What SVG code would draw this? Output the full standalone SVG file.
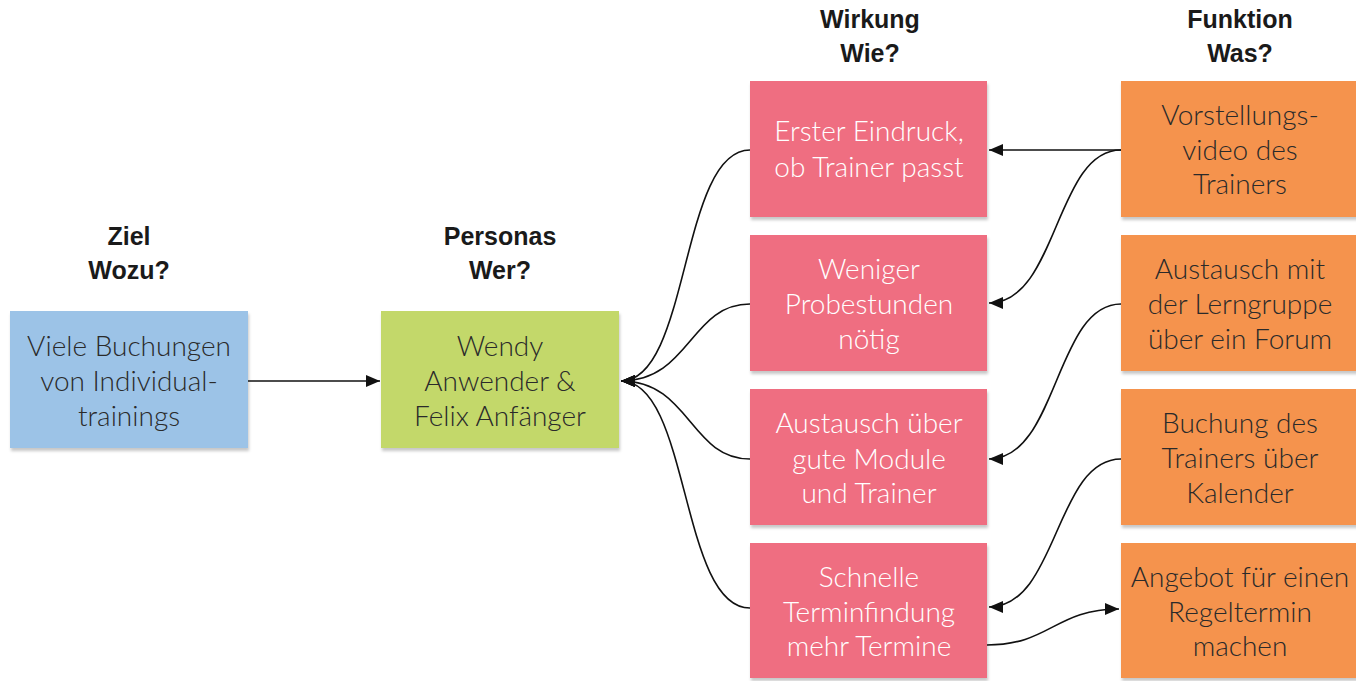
<svg xmlns="http://www.w3.org/2000/svg" width="1356" height="681" viewBox="0 0 1356 681">
<defs>
<filter id="sh" x="-5%" y="-5%" width="115%" height="120%">
<feDropShadow dx="1" dy="3" stdDeviation="1.5" flood-color="#000" flood-opacity="0.22"/>
</filter>
<marker id="ah" viewBox="0 0 14 12" refX="14" refY="6" markerWidth="14" markerHeight="12" markerUnits="userSpaceOnUse" orient="auto">
<path d="M0,0 L14,6 L0,12 Z" fill="#111"/>
</marker>
</defs>
<style>
.h{font-family:"Liberation Sans",Arial,sans-serif;font-weight:bold;font-size:25px;fill:#1a1a1a;text-anchor:middle}
.t{font-family:Lato,"Liberation Sans",sans-serif;font-weight:300;font-size:28px;text-anchor:middle}
.dk{fill:#2a2a2a}
.wt{fill:#ffffff}
.blue{fill:#9cc3e7;filter:url(#sh)}
.green{fill:#c3d86b;filter:url(#sh)}
.pink{fill:#ef6e81;filter:url(#sh)}
.orange{fill:#f5934d;filter:url(#sh)}
.c{fill:none;stroke:#111;stroke-width:1.6;marker-end:url(#ah)}
</style>
<rect width="1356" height="681" fill="#fff"/>

<g id="headings">
<text class="h" x="129" y="245">Ziel</text>
<text class="h" x="129" y="279">Wozu?</text>
<text class="h" x="500" y="245">Personas</text>
<text class="h" x="500" y="279">Wer?</text>
<text class="h" x="870" y="28">Wirkung</text>
<text class="h" x="870" y="62">Wie?</text>
<text class="h" x="1240" y="28">Funktion</text>
<text class="h" x="1240" y="62">Was?</text>
</g>

<g id="ziel">
<rect class="blue" x="10" y="311" width="238" height="137"/>
<text class="t dk" x="129" y="356">Viele Buchungen</text>
<text class="t dk" x="129" y="391">von Individual-</text>
<text class="t dk" x="129" y="426">trainings</text>
</g>

<g id="personas">
<rect class="green" x="381" y="311" width="238" height="137"/>
<text class="t dk" x="500" y="356">Wendy</text>
<text class="t dk" x="500" y="391">Anwender &amp;</text>
<text class="t dk" x="500" y="426">Felix Anfänger</text>
</g>

<g id="wirkung1">
<rect class="pink" x="750" y="81" width="237" height="136"/>
<text class="t wt" x="869" y="141">Erster Eindruck,</text>
<text class="t wt" x="869" y="177">ob Trainer passt</text>
</g>
<g id="wirkung2">
<rect class="pink" x="750" y="235" width="237" height="136"/>
<text class="t wt" x="869" y="279">Weniger</text>
<text class="t wt" x="869" y="314">Probestunden</text>
<text class="t wt" x="869" y="349">nötig</text>
</g>
<g id="wirkung3">
<rect class="pink" x="750" y="389" width="237" height="136"/>
<text class="t wt" x="869" y="433">Austausch über</text>
<text class="t wt" x="869" y="469">gute Module</text>
<text class="t wt" x="869" y="503">und Trainer</text>
</g>
<g id="wirkung4">
<rect class="pink" x="750" y="543" width="237" height="135"/>
<text class="t wt" x="869" y="587">Schnelle</text>
<text class="t wt" x="869" y="622">Terminfindung</text>
<text class="t wt" x="869" y="656">mehr Termine</text>
</g>

<g id="funktion1">
<rect class="orange" x="1121" y="81" width="240" height="136"/>
<text class="t dk" x="1240" y="125">Vorstellungs-</text>
<text class="t dk" x="1240" y="160">video des</text>
<text class="t dk" x="1240" y="194">Trainers</text>
</g>
<g id="funktion2">
<rect class="orange" x="1121" y="235" width="240" height="136"/>
<text class="t dk" x="1240" y="279">Austausch mit</text>
<text class="t dk" x="1240" y="314">der Lerngruppe</text>
<text class="t dk" x="1240" y="349">über ein Forum</text>
</g>
<g id="funktion3">
<rect class="orange" x="1121" y="389" width="240" height="136"/>
<text class="t dk" x="1240" y="433">Buchung des</text>
<text class="t dk" x="1240" y="468">Trainers über</text>
<text class="t dk" x="1240" y="503">Kalender</text>
</g>
<g id="funktion4">
<rect class="orange" x="1121" y="543" width="240" height="135"/>
<text class="t dk" x="1240" y="587">Angebot für einen</text>
<text class="t dk" x="1240" y="622">Regeltermin</text>
<text class="t dk" x="1240" y="656">machen</text>
</g>

<g id="connectors">
<path class="c" d="M248,381 L380,381"/>
<path class="c" d="M750,150 C680,150 690,381 621,381"/>
<path class="c" d="M750,304 C690,304 690,381 621,381"/>
<path class="c" d="M750,459 C690,459 690,381 621,381"/>
<path class="c" d="M750,608 C680,608 690,381 621,381"/>
<path class="c" d="M1121,150 L989,150"/>
<path class="c" d="M1121,150 C1055,150 1058,303 989,303"/>
<path class="c" d="M1121,304 C1055,304 1058,459 989,459"/>
<path class="c" d="M1121,459 C1055,459 1058,607 989,607"/>
<path class="c" d="M987,645 C1050,645 1055,609 1119,609"/>
</g>
</svg>
